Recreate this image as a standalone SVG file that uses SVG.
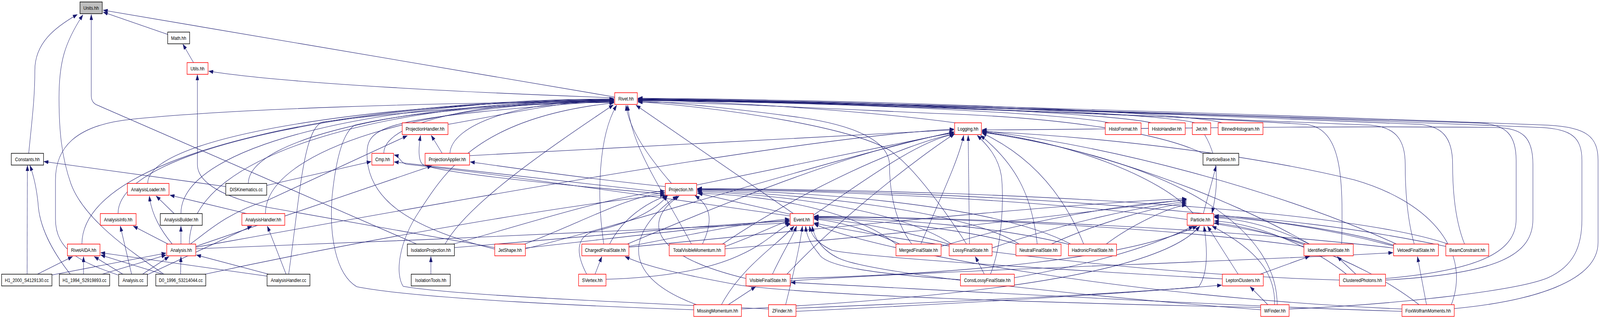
<svg xmlns="http://www.w3.org/2000/svg" width="4961" height="813" viewBox="0 0 4961 813" preserveAspectRatio="none" style="width:100%;height:100%;display:block">
<style>
.n rect{fill:#fff;stroke-width:1.5}
.n .r{stroke:#ff0000}
.n .k{stroke:#000}
.n text{font-family:"Liberation Sans",Arial,Helvetica,sans-serif;font-size:13px;text-anchor:middle;fill:#000}
#edges path{fill:none;stroke:#191970;stroke-width:1.1;marker-end:url(#arr)}
</style>
<defs>
<marker id="arr" viewBox="0 0 14 10" refX="14" refY="5" markerWidth="14" markerHeight="10" markerUnits="userSpaceOnUse" orient="auto">
<path d="M0,0 L14,5 L0,10 z" fill="#191970" stroke="#191970" stroke-width="0.5"/>
</marker>
</defs>
<rect x="0" y="0" width="4961" height="813" fill="#fff"/>
<g id="edges">
<path d="M89,392 C100,300 108,250 108,180 C108,110 170,70 240,37"/>
<path d="M508,701 C400,640 260,560 220,470 C190,400 183,330 183,250 C183,160 200,110 257,38"/>
<path d="M1292,624 L297,267 Q283,260 283,245 L283,37"/>
<path d="M520,88 L320,31"/>
<path d="M1906,248 L320,26"/>
<path d="M600,160 L567,113"/>
<path d="M1906,250 C1500,238 900,215 647,182"/>
<path d="M1534,633 L830,530 C700,505 612,470 612,420 L612,191"/>
<path d="M84,701 L85,423"/>
<path d="M218,701 C160,640 122,580 118,520 C112,470 100,440 93,423"/>
<path d="M700,477 L136,413"/>
<path d="M1389,318 C1550,295 1750,258 1904,253"/>
<path d="M458,469 C458,340 1255,257 1904,257"/>
<path d="M770,469 C770,350 1300,258 1904,258"/>
<path d="M366,546 C366,370 1200,255 1904,255"/>
<path d="M561,546 C561,360 1240,254 1904,254"/>
<path d="M823,546 C823,380 1350,259 1904,259"/>
<path d="M254,624 C254,380 1150,253 1904,253"/>
<path d="M587,624 C587,380 1260,256 1904,256"/>
<path d="M366,703 C250,670 172,640 172,560 L172,460 C172,380 230,320 407,305 C700,280 1300,262 1904,260"/>
<path d="M895,701 C930,500 940,330 1000,312 C1200,290 1600,262 1904,261"/>
<path d="M1535,637 C1250,580 1135,500 1138,390 C1140,320 1200,300 1904,257"/>
<path d="M1395,392 C1400,320 1600,258 1904,256"/>
<path d="M1190,392 C1190,310 1500,257 1904,257"/>
<path d="M2151,792 C1900,785 1300,765 1106,733 C1040,700 1020,600 1030,500 C1040,420 1060,340 1100,320 C1300,280 1700,262 1904,262"/>
<path d="M2383,790 C2000,775 1400,755 1250,732 C1225,700 1235,620 1300,540 C1380,440 1480,300 1904,263"/>
<path d="M1872,624 C1850,500 1855,350 1912,269"/>
<path d="M2144,624 C2050,480 1960,380 1946,269"/>
<path d="M2082,469 C2010,400 1950,330 1941,269"/>
<path d="M2460,546 L1972,269"/>
<path d="M1380,624 C1450,520 1700,380 1902,268"/>
<path d="M2962,314 C2700,285 2300,262 1978,255"/>
<path d="M3440,314 C3300,290 2600,262 1978,254"/>
<path d="M3570,314 C3450,290 2700,260 1978,253"/>
<path d="M3705,314 C3600,290 2800,260 1978,252"/>
<path d="M3790,314 C3700,290 2900,258 1978,251"/>
<path d="M2827,624 C2770,560 2758,480 2758,420 C2755,360 2650,320 2478,300 C2300,280 2100,262 1978,258"/>
<path d="M2997,624 C2900,500 2820,420 2760,385 C2650,330 2300,280 1978,260"/>
<path d="M3732,393 C3600,340 3300,300 2900,290 C2500,275 2200,262 1978,261"/>
<path d="M4160,624 C4165,450 4160,330 4050,318 C3500,290 2600,262 1978,257"/>
<path d="M4385,624 C4360,550 4357,470 4357,420 C4357,360 4330,325 4250,320 C3500,295 2600,262 1978,256"/>
<path d="M4541,624 C4510,560 4504,480 4504,420 C4504,350 4470,322 4400,318 C3600,290 2700,262 1978,255"/>
<path d="M4296,712 C4600,690 4701,640 4701,560 L4701,410 C4701,345 4670,318 4590,315 C3700,292 2700,262 1978,254"/>
<path d="M4296,716 C4650,700 4753,650 4753,560 L4753,420 C4753,350 4720,328 4640,326 C4000,320 3400,332 3045,332"/>
<path d="M4509,789 C4750,770 4955,720 4955,620 L4955,410 C4955,350 4920,325 4800,320 C4000,295 2800,262 1978,253"/>
<path d="M3997,790 C4300,780 4700,745 4800,710 C4880,680 4905,630 4905,560 L4905,410 C4905,350 4870,330 4780,326 C4000,300 2800,264 1978,257"/>
<path d="M2160,473 L2958,338"/>
<path d="M1456,398 L2958,332"/>
<path d="M607,632 C1500,500 2500,350 2958,330"/>
<path d="M1945,624 C2300,500 2700,370 2958,340"/>
<path d="M2240,624 C2500,480 2800,370 2958,342"/>
<path d="M2522,550 C2700,450 2850,360 2958,343"/>
<path d="M1629,636 C2000,560 2600,400 2958,337"/>
<path d="M2440,701 C2600,560 2850,400 2960,342"/>
<path d="M2855,624 C2930,480 2975,400 2988,346"/>
<path d="M3006,624 L3002,346"/>
<path d="M3071,701 C3110,620 3112,500 3105,450 C3095,400 3060,370 3030,346"/>
<path d="M3216,624 C3200,500 3150,420 3040,346"/>
<path d="M3360,624 C3300,500 3200,400 3045,340"/>
<path d="M4060,624 C3800,500 3400,380 3045,336"/>
<path d="M4330,624 C4000,500 3500,380 3045,334"/>
<path d="M3700,546 C3600,450 3300,360 3045,338"/>
<path d="M3960,779 C3960,600 3700,420 3045,338"/>
<path d="M4500,779 C4560,650 4450,520 4200,460 C3800,380 3300,345 3045,336"/>
<path d="M2452,548 L2164,494"/>
<path d="M1890,624 C1930,560 2000,520 2068,500"/>
<path d="M2178,624 C2215,560 2200,525 2155,500"/>
<path d="M1819,701 C1780,640 1790,600 1850,590 C1950,570 2030,540 2070,500"/>
<path d="M1405,624 C1600,580 1900,500 2061,488"/>
<path d="M1620,626 C1800,570 1950,500 2061,493"/>
<path d="M2313,712 C2000,650 2000,560 2106,501"/>
<path d="M2160,779 C1900,700 1960,580 2100,501"/>
<path d="M2778,624 C2650,540 2400,500 2162,494"/>
<path d="M2950,624 C2800,540 2450,498 2162,490"/>
<path d="M3160,624 C3000,540 2500,495 2162,487"/>
<path d="M3320,624 C3100,530 2600,492 2162,485"/>
<path d="M4050,624 C3700,530 2800,490 2162,484"/>
<path d="M4325,628 C4000,540 3000,488 2162,483"/>
<path d="M4490,624 C4200,540 3200,486 2162,482"/>
<path d="M2395,701 C2430,640 2455,610 2470,578"/>
<path d="M2237,779 C2300,680 2420,620 2462,578"/>
<path d="M2436,779 C2460,700 2480,630 2488,578"/>
<path d="M2978,715 C2700,700 2560,680 2540,650 C2510,620 2500,600 2498,578"/>
<path d="M1950,630 C2200,590 2350,565 2448,560"/>
<path d="M2248,630 C2350,600 2400,575 2448,565"/>
<path d="M1629,634 C2000,600 2300,570 2448,563"/>
<path d="M1409,633 C1900,600 2250,570 2448,566"/>
<path d="M1879,714 C2050,710 2200,690 2300,650 C2380,620 2420,580 2452,572"/>
<path d="M607,636 C1200,620 2000,585 2448,570"/>
<path d="M2790,624 C2700,590 2600,565 2524,560"/>
<path d="M2950,626 C2800,590 2650,565 2524,558"/>
<path d="M3160,626 C3000,585 2700,562 2524,556"/>
<path d="M3320,626 C3100,580 2800,560 2524,555"/>
<path d="M4045,630 C3600,580 3000,558 2524,554"/>
<path d="M4321,634 C3800,585 3100,558 2524,553"/>
<path d="M3790,713 C3300,690 2700,660 2580,640 C2530,620 2515,600 2510,578"/>
<path d="M3909,792 C3400,760 2700,700 2600,660 C2550,640 2525,610 2518,578"/>
<path d="M4153,716 C3500,700 2800,620 2524,570"/>
<path d="M4347,790 C3500,760 2700,640 2524,572"/>
<path d="M2918,630 C3200,560 3500,520 3679,512"/>
<path d="M3076,634 C3300,570 3550,525 3679,516"/>
<path d="M3260,624 C3400,570 3600,525 3679,520"/>
<path d="M3430,624 C3500,580 3620,530 3679,524"/>
<path d="M1950,632 C2600,580 3300,520 3679,508"/>
<path d="M2248,636 C2800,600 3400,540 3679,510"/>
<path d="M3145,710 C3350,680 3550,640 3700,578"/>
<path d="M2450,712 C3000,700 3500,660 3712,578"/>
<path d="M2299,790 C3000,760 3600,700 3720,578"/>
<path d="M2468,796 C3000,775 3500,750 3717,733 C3745,700 3745,640 3733,578"/>
<path d="M3839,701 L3744,578"/>
<path d="M3952,779 C3955,700 3900,640 3758,578"/>
<path d="M4060,624 C3950,580 3850,560 3765,556"/>
<path d="M4325,630 C4100,580 3900,560 3765,554"/>
<path d="M4483,630 C4200,580 3900,555 3765,552"/>
<path d="M4175,701 C4050,620 3880,570 3765,565"/>
<path d="M4400,779 C4200,650 3900,580 3765,570"/>
<path d="M3731,546 L3771,424"/>
<path d="M3735,344 C3790,420 3770,500 3758,545"/>
<path d="M3052,701 L3024,656"/>
<path d="M1845,701 L1866,656"/>
<path d="M2258,779 L2343,733"/>
<path d="M3907,701 L4061,655"/>
<path d="M3931,779 L3876,733"/>
<path d="M4204,701 L4146,656"/>
<path d="M4423,779 L4395,656"/>
<path d="M2450,718 C2900,692 3800,670 4319,646"/>
<path d="M3909,786 C3000,770 2500,750 2300,730 C2100,700 2000,680 1938,656"/>
<path d="M4347,796 C3800,782 3000,745 2452,722"/>
<path d="M2468,788 C3000,770 3500,750 3788,729"/>
<path d="M521,624 L413,578"/>
<path d="M534,624 C500,590 470,550 463,501"/>
<path d="M561,624 L561,578"/>
<path d="M540,546 L484,501"/>
<path d="M765,546 L527,499"/>
<path d="M590,624 C640,595 700,545 830,512 L1263,347"/>
<path d="M607,630 L1339,424"/>
<path d="M827,474 L1151,413"/>
<path d="M1371,392 L1337,346"/>
<path d="M2061,496 C1700,470 1350,440 1310,420 C1297,410 1297,380 1304,346"/>
<path d="M2061,492 C1700,460 1400,430 1222,414"/>
<path d="M2063,477 C1800,455 1600,430 1458,414"/>
<path d="M2450,552 C2000,500 1500,440 1260,420 C1240,415 1240,400 1222,396"/>
<path d="M381,701 L292,656"/>
<path d="M442,701 L524,656"/>
<path d="M408,701 L373,578"/>
<path d="M455,703 L781,578"/>
<path d="M116,701 L225,656"/>
<path d="M161,703 L515,647"/>
<path d="M259,701 L259,656"/>
<path d="M317,701 L515,652"/>
<path d="M505,701 L312,652"/>
<path d="M560,701 L561,656"/>
<path d="M630,702 C1200,600 1800,520 2061,498"/>
<path d="M828,706 L312,646"/>
<path d="M833,701 L609,652"/>
<path d="M887,701 L829,578"/>
<path d="M1336,701 L1336,656"/>
</g>
<g id="node-units" class="n"><rect class="k" x="248" y="5" width="69" height="30" style="fill:#bfbfbf"/><text x="282.5" y="25">Units.hh</text></g>
<g id="node-math" class="n"><rect class="k" x="520" y="82" width="68" height="30"/><text x="554" y="102">Math.hh</text></g>
<g id="node-utils" class="n"><rect class="r" x="580" y="160" width="65" height="30"/><text x="612.5" y="180">Utils.hh</text></g>
<g id="node-rivet" class="n"><rect class="r" x="1906" y="237" width="70" height="30"/><text x="1941" y="257">Rivet.hh</text></g>
<g id="node-projectionhandler" class="n"><rect class="r" x="1247" y="314" width="142" height="30"/><text x="1318" y="334">ProjectionHandler.hh</text></g>
<g id="node-logging" class="n"><rect class="r" x="2960" y="314" width="83" height="30"/><text x="3001.5" y="334">Logging.hh</text></g>
<g id="node-histoformat" class="n"><rect class="r" x="3427" y="314" width="111" height="30"/><text x="3482.5" y="334">HistoFormat.hh</text></g>
<g id="node-histohandler" class="n"><rect class="r" x="3561" y="314" width="114" height="30"/><text x="3618" y="334">HistoHandler.hh</text></g>
<g id="node-jet" class="n"><rect class="r" x="3697" y="314" width="57" height="30"/><text x="3725.5" y="334">Jet.hh</text></g>
<g id="node-binnedhistogram" class="n"><rect class="r" x="3777" y="314" width="139" height="30"/><text x="3846.5" y="334">BinnedHistogram.hh</text></g>
<g id="node-constants" class="n"><rect class="k" x="35" y="392" width="100" height="30"/><text x="85" y="412">Constants.hh</text></g>
<g id="node-cmp" class="n"><rect class="r" x="1153" y="392" width="67" height="30"/><text x="1186.5" y="412">Cmp.hh</text></g>
<g id="node-projectionapplier" class="n"><rect class="r" x="1318" y="392" width="138" height="30"/><text x="1387" y="412">ProjectionApplier.hh</text></g>
<g id="node-particlebase" class="n"><rect class="k" x="3730" y="392" width="111" height="30"/><text x="3785.5" y="412">ParticleBase.hh</text></g>
<g id="node-analysisloader" class="n"><rect class="r" x="395" y="469" width="129" height="30"/><text x="459.5" y="489">AnalysisLoader.hh</text></g>
<g id="node-diskinematics" class="n"><rect class="k" x="700" y="469" width="127" height="30"/><text x="763.5" y="489">DISKinematics.cc</text></g>
<g id="node-projection" class="n"><rect class="r" x="2063" y="469" width="97" height="30"/><text x="2111.5" y="489">Projection.hh</text></g>
<g id="node-analysisinfo" class="n"><rect class="r" x="311" y="546" width="111" height="30"/><text x="366.5" y="566">AnalysisInfo.hh</text></g>
<g id="node-analysisbuilder" class="n"><rect class="k" x="497" y="546" width="130" height="30"/><text x="562" y="566">AnalysisBuilder.hh</text></g>
<g id="node-analysishandler-hh" class="n"><rect class="r" x="750" y="546" width="133" height="30"/><text x="816.5" y="566">AnalysisHandler.hh</text></g>
<g id="node-event" class="n"><rect class="r" x="2450" y="546" width="72" height="30"/><text x="2486" y="566">Event.hh</text></g>
<g id="node-particle" class="n"><rect class="r" x="3681" y="546" width="82" height="30"/><text x="3722" y="566">Particle.hh</text></g>
<g id="node-rivetaida" class="n"><rect class="r" x="209" y="624" width="101" height="30"/><text x="259.5" y="644">RivetAIDA.hh</text></g>
<g id="node-analysis-hh" class="n"><rect class="r" x="517" y="624" width="90" height="30"/><text x="562" y="644">Analysis.hh</text></g>
<g id="node-isolationprojection" class="n"><rect class="k" x="1263" y="624" width="146" height="30"/><text x="1336" y="644">IsolationProjection.hh</text></g>
<g id="node-jetshape" class="n"><rect class="r" x="1534" y="624" width="95" height="30"/><text x="1581.5" y="644">JetShape.hh</text></g>
<g id="node-chargedfinalstate" class="n"><rect class="r" x="1804" y="624" width="146" height="30"/><text x="1877" y="644">ChargedFinalState.hh</text></g>
<g id="node-totalvisiblemomentum" class="n"><rect class="r" x="2075" y="624" width="173" height="30"/><text x="2161.5" y="644">TotalVisibleMomentum.hh</text></g>
<g id="node-mergedfinalstate" class="n"><rect class="r" x="2778" y="624" width="140" height="30"/><text x="2848" y="644">MergedFinalState.hh</text></g>
<g id="node-lossyfinalstate" class="n"><rect class="r" x="2943" y="624" width="133" height="30"/><text x="3009.5" y="644">LossyFinalState.hh</text></g>
<g id="node-neutralfinalstate" class="n"><rect class="r" x="3150" y="624" width="140" height="30"/><text x="3220" y="644">NeutralFinalState.hh</text></g>
<g id="node-hadronicfinalstate" class="n"><rect class="r" x="3313" y="624" width="149" height="30"/><text x="3387.5" y="644">HadronicFinalState.hh</text></g>
<g id="node-identifiedfinalstate" class="n"><rect class="r" x="4043" y="624" width="153" height="30"/><text x="4119.5" y="644">IdentifiedFinalState.hh</text></g>
<g id="node-vetoedfinalstate" class="n"><rect class="r" x="4321" y="624" width="139" height="30"/><text x="4390.5" y="644">VetoedFinalState.hh</text></g>
<g id="node-beamconstraint" class="n"><rect class="r" x="4483" y="624" width="133" height="30"/><text x="4549.5" y="644">BeamConstraint.hh</text></g>
<g id="node-h1-2000" class="n"><rect class="k" x="5" y="701" width="156" height="30"/><text x="83" y="721">H1_2000_S4129130.cc</text></g>
<g id="node-h1-1994" class="n"><rect class="k" x="184" y="701" width="156" height="30"/><text x="262" y="721">H1_1994_S2919893.cc</text></g>
<g id="node-analysis-cc" class="n"><rect class="k" x="368" y="701" width="89" height="30"/><text x="412.5" y="721">Analysis.cc</text></g>
<g id="node-d0-1996" class="n"><rect class="k" x="483" y="701" width="155" height="30"/><text x="560.5" y="721">D0_1996_S3214044.cc</text></g>
<g id="node-analysishandler-cc" class="n"><rect class="k" x="828" y="701" width="133" height="30"/><text x="894.5" y="721">AnalysisHandler.cc</text></g>
<g id="node-isolationtools" class="n"><rect class="k" x="1275" y="701" width="121" height="30"/><text x="1335.5" y="721">IsolationTools.hh</text></g>
<g id="node-svertex" class="n"><rect class="r" x="1794" y="701" width="85" height="30"/><text x="1836.5" y="721">SVertex.hh</text></g>
<g id="node-visiblefinalstate" class="n"><rect class="r" x="2313" y="701" width="137" height="30"/><text x="2381.5" y="721">VisibleFinalState.hh</text></g>
<g id="node-constlossyfinalstate" class="n"><rect class="r" x="2978" y="701" width="167" height="30"/><text x="3061.5" y="721">ConstLossyFinalState.hh</text></g>
<g id="node-leptonclusters" class="n"><rect class="r" x="3790" y="701" width="127" height="30"/><text x="3853.5" y="721">LeptonClusters.hh</text></g>
<g id="node-clusteredphotons" class="n"><rect class="r" x="4153" y="701" width="143" height="30"/><text x="4224.5" y="721">ClusteredPhotons.hh</text></g>
<g id="node-missingmomentum" class="n"><rect class="r" x="2151" y="779" width="148" height="30"/><text x="2225" y="799">MissingMomentum.hh</text></g>
<g id="node-zfinder" class="n"><rect class="r" x="2383" y="779" width="85" height="30"/><text x="2425.5" y="799">ZFinder.hh</text></g>
<g id="node-wfinder" class="n"><rect class="r" x="3909" y="779" width="88" height="30"/><text x="3953" y="799">WFinder.hh</text></g>
<g id="node-foxwolframmoments" class="n"><rect class="r" x="4347" y="779" width="162" height="30"/><text x="4428" y="799">FoxWolframMoments.hh</text></g>
</svg>
